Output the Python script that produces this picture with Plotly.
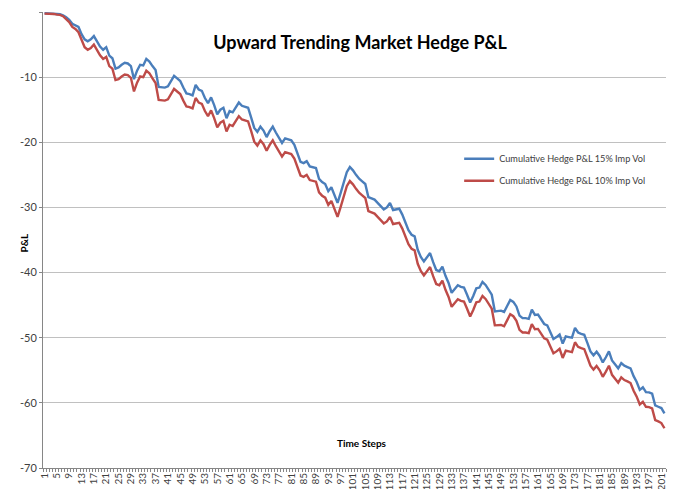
import plotly.graph_objects as go

time_steps = list(range(1, 203))

hedge_15 = [
    -0.2, -0.2, -0.25, -0.25, -0.3, -0.35, -0.5, -0.8, -1.2, -1.8,
    -2.0, -2.3, -3.4, -4.2, -4.5, -4.2, -3.7, -4.6, -5.3, -5.8,
    -5.4, -6.7, -7.1, -8.7, -8.5, -8.1, -7.8, -7.9, -8.3, -10.3,
    -9.0, -8.1, -8.2, -7.2, -7.6, -8.3, -8.9, -11.5, -11.6, -11.6,
    -11.4, -10.7, -9.8, -10.2, -10.6, -11.6, -12.5, -12.6, -12.8, -11.2,
    -11.9, -12.1, -13.2, -14.0, -13.1, -14.3, -15.7, -15.0, -14.7, -16.3,
    -15.2, -15.4, -14.6, -13.9, -14.4, -14.6, -14.7, -16.2, -17.8, -18.4,
    -17.6, -18.2, -19.2, -18.3, -17.6, -18.5, -19.4, -20.1, -19.4, -19.5,
    -19.7, -20.4, -21.6, -23.0, -23.2, -22.9, -23.7, -23.8, -23.95, -25.6,
    -26.1, -26.4, -27.5, -26.9, -28.1, -29.3, -27.8, -26.3, -24.6, -23.8,
    -24.3, -25.0, -25.6, -26.0, -26.4, -28.4, -28.6, -28.8, -29.3, -29.8,
    -30.3, -30.0, -29.3, -30.4, -30.3, -30.2, -31.1, -32.2, -33.5, -34.2,
    -34.45, -36.5, -37.6, -38.3, -37.7, -37.0, -38.4, -39.6, -39.8, -39.1,
    -40.5, -41.6, -43.1, -42.5, -41.95, -42.2, -42.3, -43.4, -44.6, -43.6,
    -42.4, -42.3, -41.45, -41.9, -42.6, -43.4, -45.95, -45.9, -45.85, -46.05,
    -45.2, -44.2, -44.5, -45.2, -46.6, -47.0, -47.0, -47.1, -45.7, -46.5,
    -46.45, -47.2, -47.9, -48.1, -49.3, -50.2, -49.9, -49.5, -50.9, -49.8,
    -49.9, -50.0, -48.5, -49.2, -49.4, -49.55, -50.8, -52.1, -52.7, -52.15,
    -52.8, -53.8, -53.0, -52.1, -53.5, -54.2, -54.7, -53.9, -54.3, -54.5,
    -54.7, -55.9, -56.8, -58.0, -57.6, -58.35, -58.4, -58.6, -60.4, -60.6,
    -60.8, -61.6,
]

hedge_10 = [
    -0.25, -0.25, -0.3, -0.3, -0.4, -0.45, -0.65, -1.05, -1.55, -2.3,
    -2.6, -3.1, -4.4, -5.4, -5.8, -5.55, -5.0, -5.95, -6.65, -7.2,
    -6.9, -8.3, -8.7, -10.45, -10.3, -9.9, -9.6, -9.7, -10.1, -12.2,
    -10.85, -9.9, -10.0, -9.0, -9.4, -10.2, -10.9, -13.5, -13.6, -13.6,
    -13.4, -12.7, -11.8, -12.2, -12.6, -13.6, -14.5, -14.6, -14.8, -13.2,
    -13.9, -14.1, -15.2, -16.0, -15.1, -16.3, -17.7, -17.0, -16.7, -18.35,
    -17.3, -17.5, -16.7, -16.0, -16.5, -16.7, -16.8, -18.3, -19.9, -20.5,
    -19.7, -20.3, -21.3, -20.4, -19.7, -20.6, -21.5, -22.2, -21.5, -21.6,
    -21.8, -22.5, -23.7, -25.1, -25.3, -25.0, -25.8, -25.9, -26.05, -27.7,
    -28.2, -28.5, -29.6, -29.0, -30.2, -31.45, -29.95, -28.45, -26.75, -25.95,
    -26.45, -27.15, -27.75, -28.15, -28.55, -30.55, -30.75, -30.95, -31.45, -31.95,
    -32.45, -32.15, -31.45, -32.55, -32.45, -32.35, -33.25, -34.35, -35.65, -36.35,
    -36.6, -38.65, -39.75, -40.45, -39.85, -39.15, -40.55, -41.75, -41.95, -41.25,
    -42.65, -43.75, -45.25, -44.65, -44.1, -44.35, -44.45, -45.55, -46.75, -45.75,
    -44.55, -44.45, -43.6, -44.05, -44.75, -45.55, -48.1, -48.1, -48.05, -48.25,
    -47.4, -46.4, -46.7, -47.4, -48.8, -49.2, -49.2, -49.3, -47.9, -48.7,
    -48.65, -49.4, -50.1, -50.3, -51.5, -52.4, -52.1, -51.7, -53.1, -52.0,
    -52.1, -52.2, -50.7, -51.4, -51.6, -51.75, -53.0, -54.3, -54.9, -54.35,
    -55.0, -56.0, -55.2, -54.3, -55.7, -56.4, -56.9, -56.1, -56.5, -56.7,
    -56.95, -58.15, -59.05, -60.25, -59.85, -60.6, -60.65, -60.85, -62.65, -62.85,
    -63.1, -63.9,
]

tick_values = list(range(1, 202, 4))
tick_labels = [str(v) for v in tick_values]
y_ticks = [0, -10, -20, -30, -40, -50, -60, -70]
y_tick_labels = ["0", "-10", "-20", "-30", "-40", "-50", "-60", "-70"]

series_names = ["Cumulative Hedge P&L 15% Imp Vol", "Cumulative Hedge P&L 10% Imp Vol"]
series_colors = ["#4A7EBB", "#BE4B48"]

FONT = "Lato, 'Open Sans', sans-serif"

fig = go.Figure()
for name, vals, col, grp in zip(series_names, [hedge_15, hedge_10], series_colors, ["a", "b"]):
    fig.add_trace(go.Scatter(
        x=time_steps, y=vals, mode="lines", name=name,
        line=dict(color=col, width=2.4), legendgroup=grp,
    ))

fig.update_layout(
    width=677, height=489,
    margin=dict(l=35, r=19, t=4, b=29),
    paper_bgcolor="white", plot_bgcolor="white",
    font=dict(family=FONT, color="#404040"),
    title=dict(
        text="<b>Upward Trending Market Hedge P&L</b>",
        font=dict(family=FONT, size=18, color="black"),
        xref="paper", x=0.509, xanchor="center",
        yref="container", y=1 - 35 / 489, yanchor="middle",
    ),
    legend=dict(
        x=0.668, y=0.71, xanchor="left", yanchor="top",
        font=dict(family=FONT, size=9.2, color="#404040"),
        bgcolor="rgba(0,0,0,0)", tracegroupgap=3,
        traceorder="grouped",
    ),
    xaxis=dict(
        range=[0.5, 202.5], tickmode="array", tickvals=tick_values, ticktext=tick_labels,
        tickangle=-90, tickfont=dict(family=FONT, size=10, color="#404040"),
        showgrid=False, zeroline=False, showline=True, linecolor="#868686", linewidth=1,
        ticks="", automargin=False,
        minor=dict(tickmode="linear", tick0=0.5, dtick=1, ticks="outside",
                   ticklen=3, tickcolor="#868686", showgrid=False),
    ),
    yaxis=dict(
        range=[-70, 0], tickmode="array", tickvals=y_ticks, ticktext=y_tick_labels,
        tickfont=dict(family=FONT, size=11, color="#404040"),
        showgrid=True, gridcolor="#C0C0C0", gridwidth=1,
        zeroline=False, showline=True, linecolor="#868686", linewidth=1,
        ticks="outside", ticklen=3, tickcolor="#868686", automargin=False,
    ),
    annotations=[
        dict(text="<b>Time Steps</b>", x=0.512, y=0.037, xref="paper", yref="paper",
             showarrow=False, font=dict(family=FONT, size=10, color="black")),
        dict(text="<b>P&L</b>", x=-0.043, y=0.493, xref="paper", yref="paper",
             showarrow=False, textangle=-90, font=dict(family=FONT, size=10, color="black")),
    ],
)

fig.write_html("out.html")
